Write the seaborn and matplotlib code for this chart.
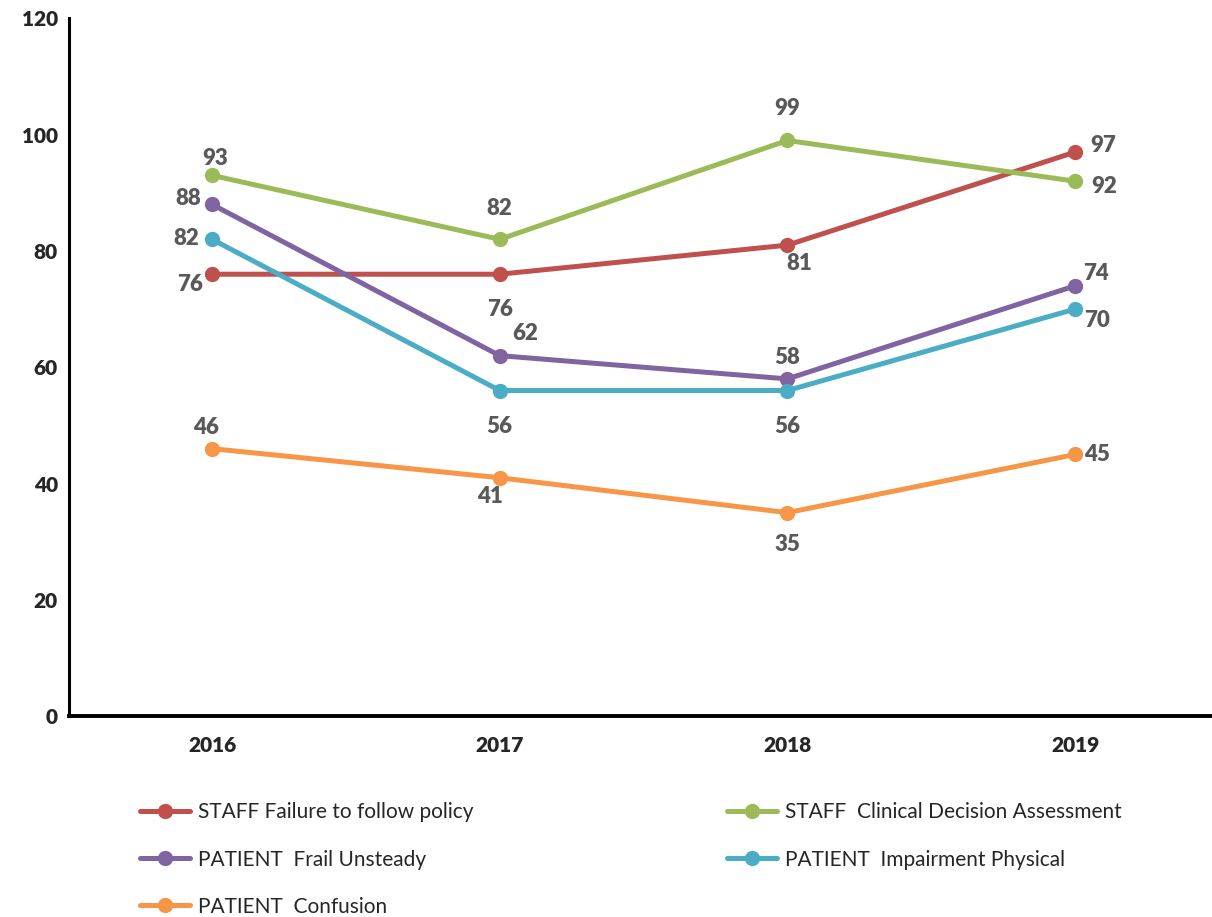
import pandas as pd
import matplotlib
matplotlib.use('Agg')
import matplotlib.pyplot as plt
import seaborn as sns

## Data
years = ['2016', '2017', '2018', '2019']
series_names = ['STAFF Failure to follow policy',
                'STAFF  Clinical Decision Assessment',
                'PATIENT  Frail Unsteady',
                'PATIENT  Impairment Physical',
                'PATIENT  Confusion']
staff_failure = [76, 76, 81, 97]
staff_clinical = [93, 82, 99, 92]
patient_frail = [88, 62, 58, 74]
patient_impairment = [82, 56, 56, 70]
patient_confusion = [46, 41, 35, 45]
colors = ['#C0504D', '#9BBB59', '#8064A2', '#4BACC6', '#F79646']

## label offsets (pixels) for each point, per series
label_offsets = [
    [(-22, -10), (0, -35), (12, -18), (28, 7)],
    [(3, 17), (0, 31), (0, 32), (29, -5)],
    [(-24, 6), (25, 22), (0, 21), (21, 12)],
    [(-26, 1), (0, -36), (0, -36), (22, -11)],
    [(-6, 21), (-10, -19), (0, -32), (22, 0)],
]

values = [staff_failure, staff_clinical, patient_frail,
          patient_impairment, patient_confusion]
rows = []
for name, vals in zip(series_names, values):
    for i, v in enumerate(vals):
        rows.append({'x': i, 'year': years[i], 'series': name, 'value': v})
df = pd.DataFrame(rows)

sns.set_style('white')
plt.rcParams['font.family'] = ['Lato', 'DejaVu Sans']

fig = plt.figure(figsize=(12.12, 9.17), dpi=100)
ax = fig.add_axes([0.057, 0.219, 0.943, 0.761])

sns.lineplot(data=df, x='x', y='value', hue='series', hue_order=series_names,
             palette=colors, marker='o', markersize=11, linewidth=3.6,
             markeredgewidth=0, ax=ax)

for vals, offs in zip(values, label_offsets):
    for i, (v, off) in enumerate(zip(vals, offs)):
        ax.annotate(str(v), (i, v), xytext=off, textcoords='offset pixels',
                    ha='center', va='center', fontsize=16, fontweight='heavy',
                    color='#595959')

ax.set_xlim(-0.497, 3.476)
ax.set_ylim(0, 120)
ax.set_yticks(range(0, 121, 20))
ax.set_xticks(range(4))
ax.set_xticklabels(years)
ax.set_xlabel('')
ax.set_ylabel('')
for lab in ax.get_xticklabels() + ax.get_yticklabels():
    lab.set_fontweight('heavy')
    lab.set_fontsize(15)
ax.tick_params(axis='x', length=0, pad=14)
ax.tick_params(axis='y', length=0, pad=8)
for s in ['top', 'right']:
    ax.spines[s].set_visible(False)
ax.spines['left'].set_linewidth(2.2)
ax.spines['bottom'].set_linewidth(2.8)
ax.spines['left'].set_color('black')
ax.spines['bottom'].set_color('black')

handles, labels = ax.get_legend_handles_labels()
ax.get_legend().remove()
order = [0, 2, 4, 1, 3]
fig.legend([handles[i] for i in order], [labels[i] for i in order],
           loc='upper left', bbox_to_anchor=(0.109, 0.134), ncol=2,
           frameon=False, fontsize=15, handlelength=2.4, handletextpad=0.35,
           labelspacing=1.3, columnspacing=12.2, borderaxespad=0)

fig.savefig('out.png', dpi=100)
